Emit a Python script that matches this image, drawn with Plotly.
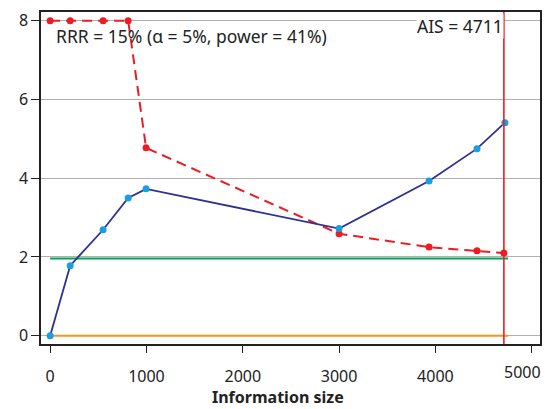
import plotly.graph_objects as go

z_x = [0, 208, 550, 810, 996, 3000, 3934, 4432, 4722]
z_y = [0, 1.78, 2.69, 3.50, 3.73, 2.72, 3.93, 4.75, 5.41]

b_x = [0, 208, 550, 810, 996, 3000, 3934, 4432, 4711]
b_y = [8, 8, 8, 8, 4.77, 2.59, 2.25, 2.16, 2.10]

x_ticks = [0, 1000, 2000, 3000, 4000, 5000]
x_ticktext = ["0", "1000", "2000", "3000", "4000", ""]
last_label = "5000"
y_ticks = [0, 2, 4, 6, 8]

conv_y = 1.96
ais = 4711
line_end = 4755

fig = go.Figure()
fig.add_trace(go.Scatter(x=[0, line_end], y=[0, 0], mode="lines",
                         line=dict(color="#f7941d", width=2), hoverinfo="skip"))
fig.add_trace(go.Scatter(x=[0, line_end], y=[conv_y, conv_y], mode="lines",
                         line=dict(color="#00a651", width=2), hoverinfo="skip"))
fig.add_trace(go.Scatter(x=b_x, y=b_y, mode="lines+markers",
                         line=dict(color="#ed1c24", width=2, dash="10px,6px"),
                         marker=dict(color="#ed1c24", size=7)))
fig.add_trace(go.Scatter(x=z_x, y=z_y, mode="lines+markers",
                         line=dict(color="#2e3192", width=1.8),
                         marker=dict(color="#1b9de2", size=7)))
fig.add_trace(go.Scatter(x=[ais, ais], y=[-0.3, 8.4], mode="lines",
                         line=dict(color="#ed1c24", width=1.6), hoverinfo="skip"))

fig.add_annotation(x=ais, y=1, xref="x", yref="paper", text="AIS = 4711",
                   showarrow=False, xanchor="right", yanchor="top", yshift=-1,
                   bgcolor="white", font=dict(size=17.5, color="#222"), borderpad=0)
fig.add_annotation(x=40, y=7.6, xref="x", yref="y",
                   text="RRR = 15% (α = 5%, power = 41%)",
                   showarrow=False, xanchor="left", yanchor="middle",
                   font=dict(size=17.5, color="#222"))
fig.add_annotation(x=0.965, y=-0.083, xref="paper", yref="paper", text=last_label,
                   showarrow=False, xanchor="center", yanchor="middle",
                   font=dict(size=16, color="#222"))
fig.add_annotation(x=0.474, y=-0.16, xref="paper", yref="paper",
                   text="<b>Information size</b>",
                   showarrow=False, xanchor="center", yanchor="middle",
                   font=dict(size=16, color="#222"))

fig.update_layout(
    width=548, height=409,
    margin=dict(l=41, r=8, t=12, b=65),
    paper_bgcolor="white", plot_bgcolor="white",
    showlegend=False,
    font=dict(family="Noto Sans", size=16, color="#222"),
)
fig.update_xaxes(range=[-95, 5086], tickvals=x_ticks, ticktext=x_ticktext,
                 ticks="outside", ticklen=7, tickcolor="#222", automargin=False,
                 showline=True, linecolor="#222", linewidth=1.5, mirror=True,
                 showgrid=False, zeroline=False, tickfont=dict(size=16),
                 ticklabelstandoff=10)
fig.update_yaxes(range=[-0.21, 8.22], tickvals=y_ticks,
                 ticks="outside", ticklen=8, tickcolor="#222", automargin=False,
                 showline=True, linecolor="#222", linewidth=1.5, mirror=True,
                 showgrid=True, gridcolor="#b0b0b0", gridwidth=1, zeroline=False,
                 tickfont=dict(size=16))

fig.write_html("out.html")
